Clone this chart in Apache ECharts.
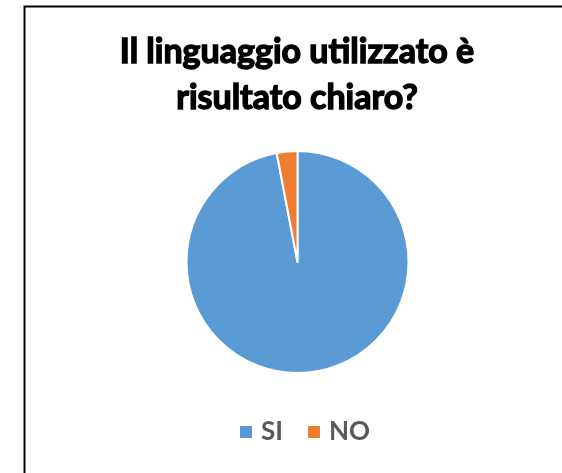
<!DOCTYPE html>
<html>
<head>
<meta charset="utf-8">
<script src="https://cdn.jsdelivr.net/npm/echarts@6/dist/echarts.min.js"></script>
<style>
html,body{margin:0;padding:0;background:#fff;}
#main{width:562px;height:473px;}
</style>
</head>
<body>
<div id="main"></div>
<script>
var titleText = "Il linguaggio utilizzato è\nrisultato chiaro?";
var categories = ["SI", "NO"];
var values = [97, 3];
var colors = ["#5B9BD5", "#ED7D31"];

var chart = echarts.init(document.getElementById('main'), null, {renderer: 'canvas'});
chart.setOption({
  animation: false,
  backgroundColor: '#ffffff',
  color: colors,
  graphic: [{
    type: 'rect',
    left: 22, top: 4,
    shape: {width: 620, height: 600},
    style: {fill: 'none', stroke: '#000', lineWidth: 2},
    silent: true
  }],
  title: {
    text: titleText,
    left: 292,
    top: 24,
    textAlign: 'center',
    padding: 5,
    textStyle: {
      fontFamily: 'Lato',
      fontWeight: 'bold',
      fontSize: 34,
      lineHeight: 46,
      color: '#000',
      textBorderColor: '#000',
      textBorderWidth: 1.4
    }
  },
  legend: {
    top: 414,
    left: 233,
    padding: 5,
    itemWidth: 14,
    itemHeight: 14,
    itemGap: 23,
    icon: 'rect',
    data: categories,
    textStyle: {fontFamily: 'Lato', fontWeight: 'bold', fontSize: 26, color: '#595959', padding: [0,0,0,3]}
  },
  series: [{
    type: 'pie',
    center: [297.5, 262],
    radius: 111,
    startAngle: 90,
    clockwise: true,
    label: {show: false},
    labelLine: {show: false},
    itemStyle: {borderColor: '#fff', borderWidth: 2},
    data: categories.map(function (c, i) { return {name: c, value: values[i]}; })
  }]
});
</script>
</body>
</html>
